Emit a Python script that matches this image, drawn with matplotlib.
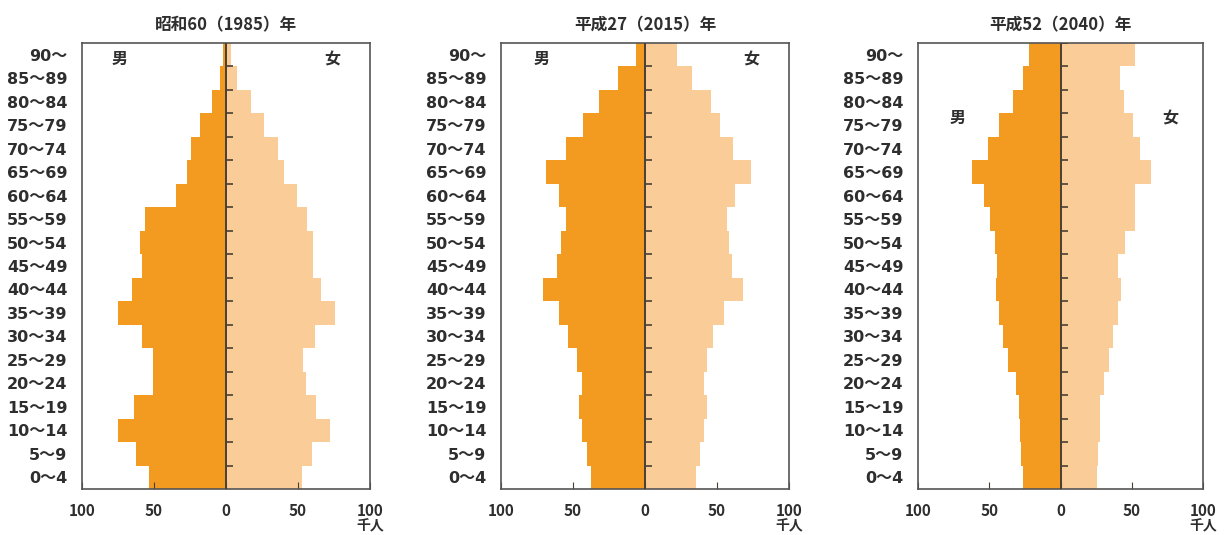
import matplotlib
matplotlib.use('Agg')
import matplotlib.pyplot as plt
import numpy as np

plt.rcParams['font.family'] = ['Noto Sans CJK JP', 'DejaVu Sans']

age_labels = ['0～4', '5～9', '10～14', '15～19', '20～24', '25～29', '30～34',
              '35～39', '40～44', '45～49', '50～54', '55～59', '60～64',
              '65～69', '70～74', '75～79', '80～84', '85～89', '90～']

titles = ['昭和60（1985）年', '平成27（2015）年', '平成52（2040）年']

# thousands of people, youngest group first
male_1985 = [53.2, 62.5, 74.8, 63.7, 50.5, 50.5, 58.6, 74.8, 65, 58.6,
             59.7, 56, 34.7, 27.3, 24.5, 18, 9.5, 4.2, 1.9]
female_1985 = [52.5, 60, 72.2, 62.5, 55.3, 53.2, 61.8, 75.7, 65.7, 60.6,
               60.6, 56.5, 49, 40.3, 36.3, 26.4, 17.1, 7.9, 3.2]

male_2015 = [37.5, 40.3, 44, 45.6, 44, 47.5, 53.2, 59.7, 70.6, 61.3,
             58.6, 55.1, 59.7, 69, 55.1, 43.3, 31.7, 19, 6.5]
female_2015 = [35.4, 38.2, 41.2, 43, 41.2, 43, 47.5, 55.1, 67.8, 60.6,
               58.6, 56.7, 62.5, 73.4, 61.3, 52.3, 45.8, 32.9, 22.5]

male_2040 = [26.5, 27.6, 28.6, 29.3, 31.1, 37, 40.7, 43.3, 45.2, 44.5,
             46.1, 49.2, 53.9, 62, 50.8, 43.3, 33.3, 26.5, 21.8]
female_2040 = [25.8, 26.5, 27.4, 27.4, 30.4, 34, 37, 40.5, 42.6, 40.5,
               45.2, 52, 52, 63.2, 55.7, 51, 44.5, 41.7, 52]

males = [male_1985, male_2015, male_2040]
females = [female_1985, female_2015, female_2040]

MALE_COLOR = '#f39a21'
FEMALE_COLOR = '#f9cc98'
LINE_COLOR = '#4a3f36'
TEXT_COLOR = '#2e2e2e'

fig = plt.figure(figsize=(12.24, 5.35), dpi=100)
lefts = [82 / 1224, 501 / 1224, 918 / 1224]
widths = [288 / 1224, 288 / 1224, 285 / 1224]
# where the 男 / 女 labels sit (data coords)
sex_x = [(-73.6, 73.6), (-71.7, 74), (-72, 77)]
sex_y = [17.8, 17.8, 15.3]

y = np.arange(len(age_labels))
for i in range(3):
    ax = fig.add_axes([lefts[i], 46 / 535, widths[i], 446 / 535])
    ax.barh(y, -np.array(males[i]), height=1.0, color=MALE_COLOR, linewidth=0)
    ax.barh(y, females[i], height=1.0, color=FEMALE_COLOR, linewidth=0)
    ax.axvline(0, color=LINE_COLOR, lw=1.4, zorder=3)
    bounds = list(y[:-1] + 0.5)
    if i == 2:
        bounds.append(len(age_labels) - 0.5)
    for b in bounds:
        ax.plot([0, 5], [b, b], color=LINE_COLOR, lw=1.2, zorder=3,
                solid_capstyle='butt')
    ax.set_xlim(-100, 100)
    ax.set_ylim(-0.5, len(age_labels) - 0.5)
    ax.set_xticks([-100, -50, 0, 50, 100])
    ax.set_xticklabels(['100', '50', '0', '50', '100'], fontweight='bold')
    ax.set_yticks(y)
    ax.set_yticklabels(age_labels, fontweight='bold',
                       family=['DejaVu Sans', 'Noto Sans CJK JP'])
    ax.tick_params(axis='x', direction='in', length=5, pad=10, labelsize=11,
                   colors=LINE_COLOR, labelcolor=TEXT_COLOR)
    ax.tick_params(axis='y', length=0, pad=10.5, labelsize=11.5, labelcolor=TEXT_COLOR)
    for s in ax.spines.values():
        s.set_color('#555555')
        s.set_linewidth(1.2)
    ax.set_title(titles[i], fontsize=12, fontweight='bold', color=TEXT_COLOR, pad=9)
    ax.text(sex_x[i][0], sex_y[i], '男', fontsize=11.5, fontweight='bold',
            color=TEXT_COLOR, ha='center', va='center')
    ax.text(sex_x[i][1], sex_y[i], '女', fontsize=11.5, fontweight='bold',
            color=TEXT_COLOR, ha='center', va='center')
    ax.annotate('千人', xy=(1.0, 0), xycoords='axes fraction', xytext=(0, -27),
                textcoords='offset points', ha='center', va='center',
                fontsize=10, fontweight='bold', color=TEXT_COLOR)

fig.savefig('out.png', dpi=100)
